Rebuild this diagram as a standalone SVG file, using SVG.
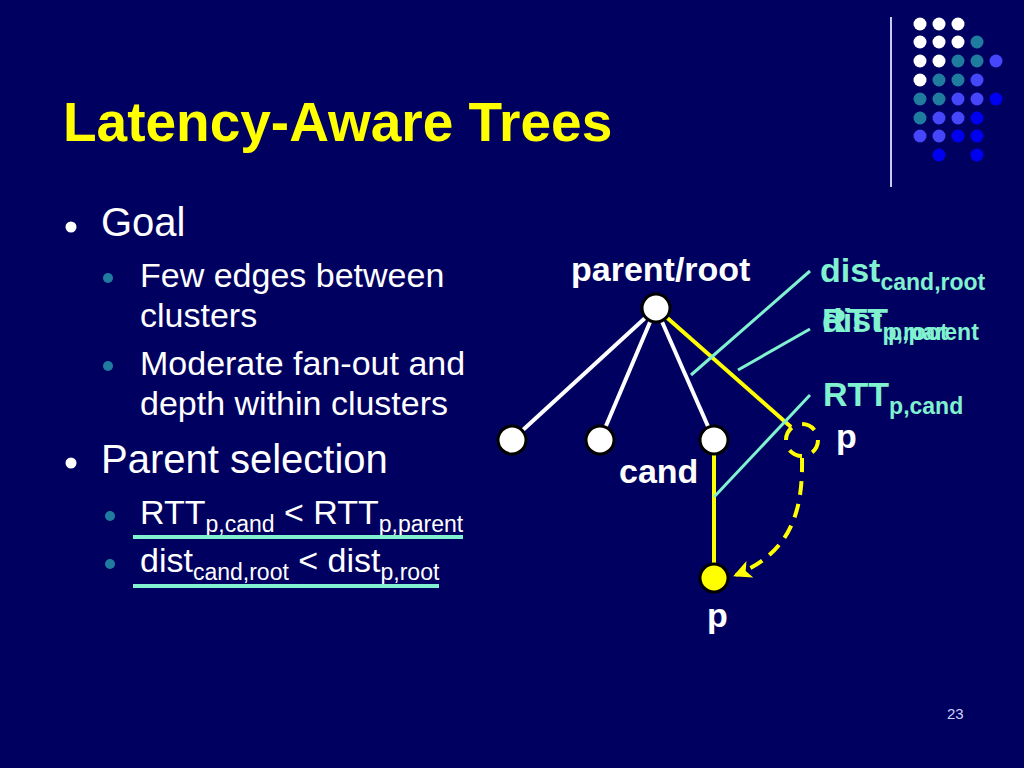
<svg xmlns="http://www.w3.org/2000/svg" width="1024" height="768" viewBox="0 0 1024 768">
<defs>
<style>
.bg{fill:#000060}
.t{font-family:"Liberation Sans",Arial,sans-serif}
.title{font-size:55px;font-weight:bold;fill:#FFFF00}
.l1{font-size:40px;fill:#FFFFFF}
.l2{font-size:34px;fill:#FFFFFF}
.lbl{font-size:34px;font-weight:bold;fill:#FFFFFF}
.aq{font-size:34px;font-weight:bold;fill:#80F2D0}
.sub{font-size:23px}
.wedge{stroke:#FFFFFF;stroke-width:4;fill:none}
.yedge{stroke:#FFFF00;stroke-width:4;fill:none}
.aline{stroke:#80F2D0;stroke-width:3;fill:none}
.node{fill:#FFFFFF;stroke:#000000;stroke-width:3}
.w{fill:#FFFFFF}.tl{fill:#207C9E}.b1{fill:#4646FA}.b2{fill:#0000F0}
</style>
<marker id="arr" viewBox="0 0 12 12" refX="10" refY="6" markerWidth="4.5" markerHeight="4.5" markerUnits="strokeWidth" orient="auto">
<path d="M0,0 L12,6 L0,12 L3,6 Z" fill="#FFFF00"/>
</marker>
</defs>
<rect class="bg" x="0" y="0" width="1024" height="768"/>

<g id="decor">
<line x1="891" y1="17" x2="891" y2="187" stroke="#C8C8F0" stroke-width="2"/>
<g id="dots">
<circle class="w" cx="920" cy="24" r="6.5"/><circle class="w" cx="939" cy="24" r="6.5"/><circle class="w" cx="958" cy="24" r="6.5"/>
<circle class="w" cx="920" cy="42" r="6.5"/><circle class="w" cx="939" cy="42" r="6.5"/><circle class="w" cx="958" cy="42" r="6.5"/><circle class="tl" cx="977" cy="42" r="6.5"/>
<circle class="w" cx="920" cy="61" r="6.5"/><circle class="w" cx="939" cy="61" r="6.5"/><circle class="tl" cx="958" cy="61" r="6.5"/><circle class="tl" cx="977" cy="61" r="6.5"/><circle class="b1" cx="996" cy="61" r="6.5"/>
<circle class="w" cx="920" cy="80" r="6.5"/><circle class="tl" cx="939" cy="80" r="6.5"/><circle class="tl" cx="958" cy="80" r="6.5"/><circle class="b1" cx="977" cy="80" r="6.5"/>
<circle class="tl" cx="920" cy="99" r="6.5"/><circle class="tl" cx="939" cy="99" r="6.5"/><circle class="b1" cx="958" cy="99" r="6.5"/><circle class="b1" cx="977" cy="99" r="6.5"/><circle class="b2" cx="996" cy="99" r="6.5"/>
<circle class="tl" cx="920" cy="118" r="6.5"/><circle class="b1" cx="939" cy="118" r="6.5"/><circle class="b1" cx="958" cy="118" r="6.5"/><circle class="b2" cx="977" cy="118" r="6.5"/>
<circle class="b1" cx="920" cy="136" r="6.5"/><circle class="b1" cx="939" cy="136" r="6.5"/><circle class="b2" cx="958" cy="136" r="6.5"/><circle class="b2" cx="977" cy="136" r="6.5"/>
<circle class="b2" cx="939" cy="155" r="6.5"/><circle class="b2" cx="977" cy="155" r="6.5"/>
</g>
</g>

<text class="t title" x="63" y="141">Latency-Aware Trees</text>

<g id="bullets">
<circle cx="71" cy="227" r="5.5" fill="#FFFFFF"/>
<text class="t l1" x="101" y="236">Goal</text>
<circle cx="108" cy="278" r="5" fill="#207C9E"/>
<text class="t l2" x="140" y="287">Few edges between</text>
<text class="t l2" x="140" y="327">clusters</text>
<circle cx="108" cy="366" r="5" fill="#207C9E"/>
<text class="t l2" x="140" y="375">Moderate fan-out and</text>
<text class="t l2" x="140" y="415">depth within clusters</text>
<circle cx="71" cy="463" r="5.5" fill="#FFFFFF"/>
<text class="t l1" x="101" y="473">Parent selection</text>
<circle cx="110" cy="516" r="5" fill="#207C9E"/>
<text class="t l2" x="140" y="524">RTT<tspan class="sub" dy="8">p,cand</tspan><tspan dy="-8"> &lt; RTT</tspan><tspan class="sub" dy="8">p,parent</tspan></text>
<line x1="133" y1="537" x2="463" y2="537" stroke="#80F2D0" stroke-width="4"/>
<circle cx="110" cy="564" r="5" fill="#207C9E"/>
<text class="t l2" x="140" y="572">dist<tspan class="sub" dy="8">cand,root</tspan><tspan dy="-8"> &lt; dist</tspan><tspan class="sub" dy="8">p,root</tspan></text>
<line x1="133" y1="586" x2="439" y2="586" stroke="#80F2D0" stroke-width="4"/>
</g>

<g id="connectors">
<line class="wedge" x1="656" y1="308" x2="512" y2="440"/>
<line class="wedge" x1="656" y1="308" x2="600" y2="440"/>
<line class="wedge" x1="656" y1="308" x2="714" y2="440"/>
<line class="yedge" x1="656" y1="308" x2="791" y2="427"/>
<line class="yedge" x1="714" y1="440" x2="714" y2="578"/>
<path class="yedge" d="M802,458 C803,510 792,552 736,575" stroke-dasharray="14 9" marker-end="url(#arr)"/>
</g>

<g id="node-root"><circle class="node" cx="656" cy="308" r="14"/><text class="t lbl" x="571" y="281">parent/root</text></g>
<g id="node-c1"><circle class="node" cx="512" cy="440" r="14"/></g>
<g id="node-c2"><circle class="node" cx="600" cy="440" r="14"/></g>
<g id="node-cand"><circle class="node" cx="714" cy="440" r="14"/><text class="t lbl" x="619" y="483">cand</text></g>
<g id="node-p-old"><circle cx="802" cy="440" r="16" fill="none" stroke="#FFFF00" stroke-width="4" stroke-dasharray="14 11"/><text class="t lbl" x="836" y="448">p</text></g>
<g id="node-p-new"><circle cx="714" cy="578" r="14" fill="#FFFF00" stroke="#000000" stroke-width="3"/><text class="t lbl" x="707" y="627">p</text></g>

<g id="annotations">
<line class="aline" x1="691" y1="375" x2="810" y2="271"/>
<line class="aline" x1="738" y1="370" x2="810" y2="329" stroke-width="6"/>
<line class="aline" x1="714" y1="497" x2="810" y2="395"/>
<text class="t aq" x="820" y="282">dist<tspan class="sub" dy="8">cand,root</tspan></text>
<text class="t aq" x="822" y="332">dist<tspan class="sub" dy="8">p,root</tspan></text>
<text class="t aq" x="822" y="332">RTT<tspan class="sub" dy="8">p,parent</tspan></text>
<text class="t aq" x="823" y="406">RTT<tspan class="sub" dy="8">p,cand</tspan></text>
</g>

<text class="t" x="947" y="719" font-size="15" fill="#D0D0F8">23</text>
</svg>
